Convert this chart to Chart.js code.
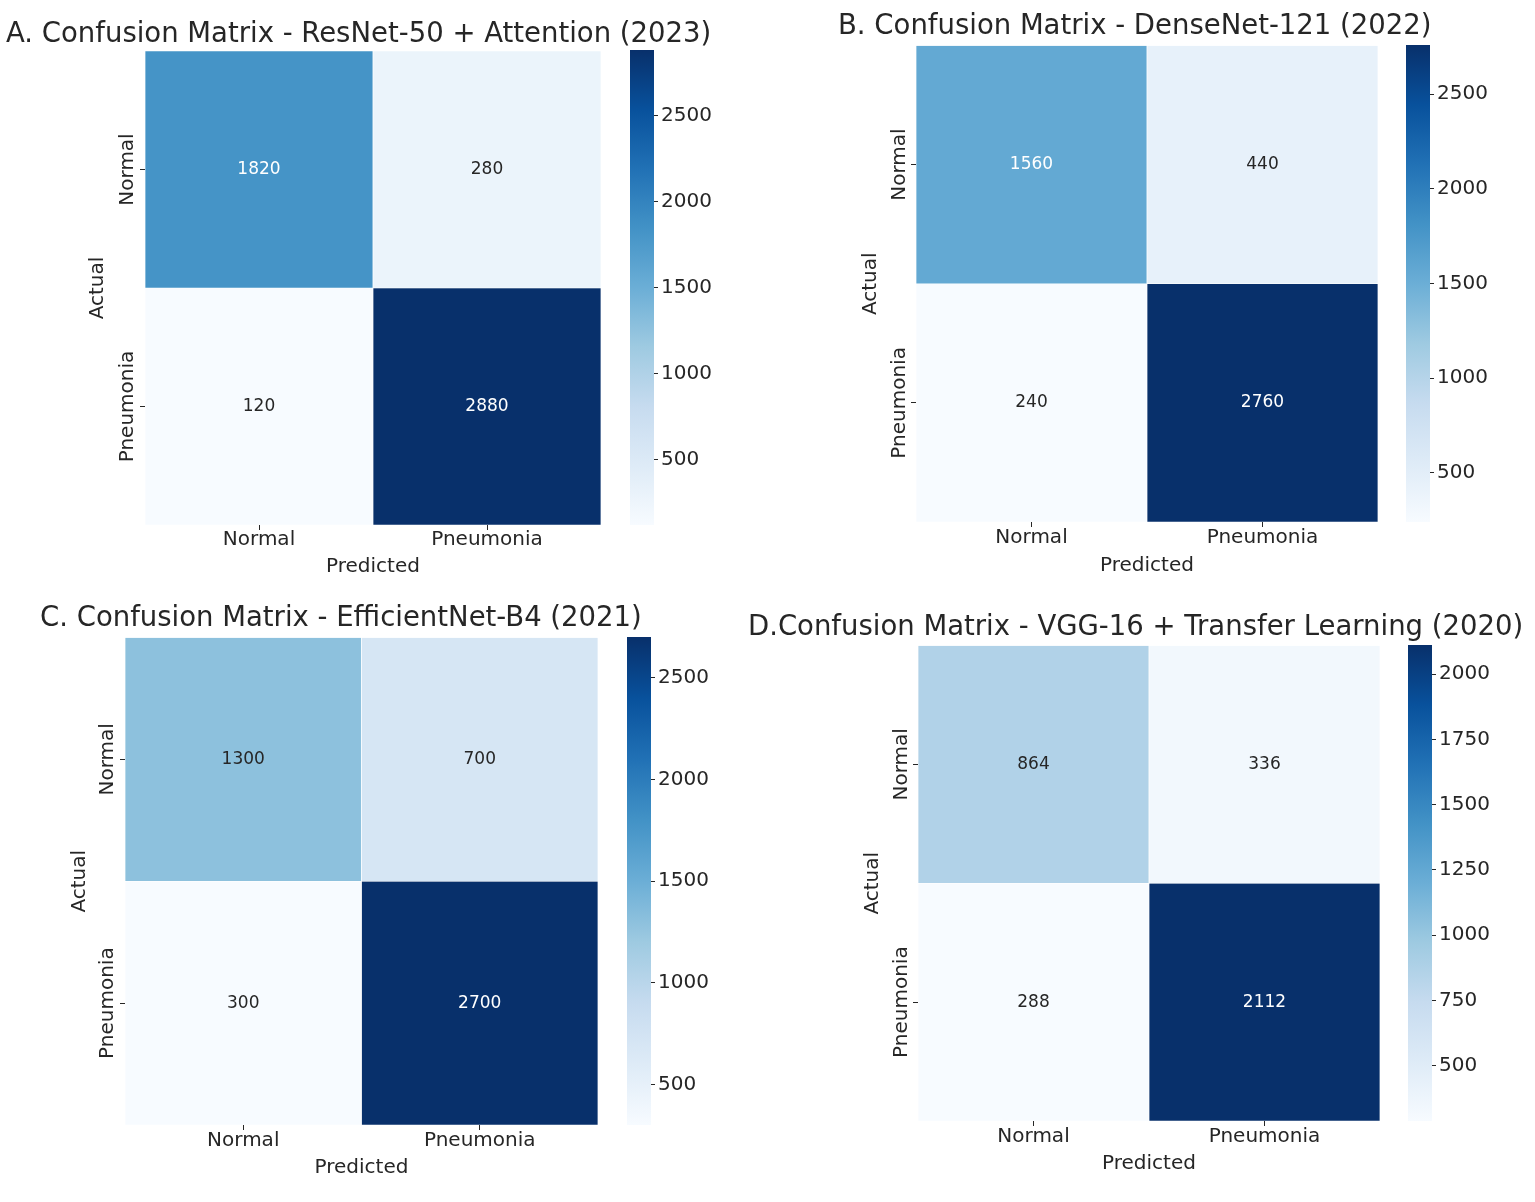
<!DOCTYPE html>
<html>
<head>
<meta charset="utf-8">
<script src="https://cdn.jsdelivr.net/npm/chart.js@4.4.1/dist/chart.umd.min.js"></script>
<style>
  html, body { margin: 0; padding: 0; background: #ffffff; }
  body { width: 1535px; height: 1202px; position: relative; overflow: hidden; }
  canvas { position: absolute; }
</style>
</head>
<body>
<script>
// ---------------- DATA ----------------
const rowLabels = ['Normal', 'Pneumonia'];   // Actual
const colLabels = ['Normal', 'Pneumonia'];   // Predicted
const axisTitleX = 'Predicted';
const axisTitleY = 'Actual';

const titleA = 'A. Confusion Matrix - ResNet-50 + Attention (2023)';
const titleB = 'B. Confusion Matrix - DenseNet-121 (2022)';
const titleC = 'C. Confusion Matrix - EfficientNet-B4 (2021)';
const titleD = 'D.Confusion Matrix - VGG-16 + Transfer Learning (2020)';

const matrixA = [[1820, 280], [120, 2880]];
const matrixB = [[1560, 440], [240, 2760]];
const matrixC = [[1300, 700], [300, 2700]];
const matrixD = [[864, 336], [288, 2112]];

const cbTicksA = [500, 1000, 1500, 2000, 2500];
const cbTicksB = [500, 1000, 1500, 2000, 2500];
const cbTicksC = [500, 1000, 1500, 2000, 2500];
const cbTicksD = [500, 750, 1000, 1250, 1500, 1750, 2000];

// ---------------- LAYOUT (page pixels) ----------------
const layouts = [
  { hm: {l:145, r:601, t:50,  b:525 }, titleLeft: 6,   titleCY: 34,  actualX: 98,  ylabX: 128, xlabCY: 540,  xtitleCY: 567,  cb: {l:630,  r:654 } },
  { hm: {l:916, r:1378, t:45, b:522 }, titleLeft: 838, titleCY: 26,  actualX: 871, ylabX: 900, xlabCY: 538,  xtitleCY: 566,  cb: {l:1406, r:1430} },
  { hm: {l:125, r:598, t:637, b:1125}, titleLeft: 40,  titleCY: 618, actualX: 80,  ylabX: 108, xlabCY: 1141, xtitleCY: 1168, cb: {l:627,  r:651 } },
  { hm: {l:918, r:1380, t:645, b:1121}, titleLeft: 748, titleCY: 627, actualX: 873, ylabX: 902, xlabCY: 1137, xtitleCY: 1164, cb: {l:1408, r:1432} }
];
const panels = [
  { title: titleA, matrix: matrixA, cbTicks: cbTicksA },
  { title: titleB, matrix: matrixB, cbTicks: cbTicksB },
  { title: titleC, matrix: matrixC, cbTicks: cbTicksC },
  { title: titleD, matrix: matrixD, cbTicks: cbTicksD }
];

// ---------------- STYLE ----------------
const FONT = "'DejaVu Sans', 'Liberation Sans', sans-serif";
const TEXT = '#262626';
const TITLE_SIZE = 27.5, TICK_SIZE = 20, ANNOT_SIZE = 17;
const BLUES = ['#f7fbff','#deebf7','#c6dbef','#9ecae1','#6baed6','#4292c6','#2171b5','#08519c','#08306b'];

Chart.defaults.font.family = FONT;
Chart.defaults.color = TEXT;

function hexToRgb(h) { return [1,3,5].map(i => parseInt(h.substr(i, 2), 16)); }
const BLUES_RGB = BLUES.map(hexToRgb);
function blues(t) {
  t = Math.max(0, Math.min(1, t));
  const p = t * (BLUES_RGB.length - 1);
  const i = Math.min(Math.floor(p), BLUES_RGB.length - 2);
  const f = p - i;
  const a = BLUES_RGB[i], b = BLUES_RGB[i + 1];
  return a.map((v, k) => Math.round(v + (b[k] - v) * f));
}
function rgbStr(c) { return 'rgb(' + c.join(',') + ')'; }
function luminance(c) {
  const lin = c.map(v => { v /= 255; return v <= 0.03928 ? v / 12.92 : Math.pow((v + 0.055) / 1.055, 2.4); });
  return 0.2126 * lin[0] + 0.7152 * lin[1] + 0.0722 * lin[2];
}

// annotate cells with their values
const annotPlugin = {
  id: 'annot',
  afterDatasetsDraw(chart, args, opts) {
    const ctx = chart.ctx;
    chart.data.datasets.forEach((ds, di) => {
      const meta = chart.getDatasetMeta(di);
      meta.data.forEach((el, ci) => {
        const v = opts.matrix[di][ci];
        const c = blues((v - opts.vmin) / (opts.vmax - opts.vmin));
        const p = el.getCenterPoint();
        ctx.save();
        ctx.font = ANNOT_SIZE + 'px ' + FONT;
        ctx.fillStyle = luminance(c) > 0.408 ? TEXT : '#ffffff';
        ctx.textAlign = 'center';
        ctx.textBaseline = 'middle';
        ctx.fillText(String(v), p.x, p.y);
        ctx.restore();
      });
    });
  }
};

// rotated row labels on the y axis
const rowLabelPlugin = {
  id: 'rowLabels',
  afterDraw(chart, args, opts) {
    const ctx = chart.ctx;
    const ys = chart.scales.y;
    opts.labels.forEach((lab, i) => {
      const y = ys.getPixelForValue(opts.labels.length - 1 - i + 0.5);
      ctx.save();
      ctx.translate(opts.x, y);
      ctx.rotate(-Math.PI / 2);
      ctx.font = TICK_SIZE + 'px ' + FONT;
      ctx.fillStyle = TEXT;
      ctx.textAlign = 'center';
      ctx.textBaseline = 'middle';
      ctx.fillText(lab, 0, 0);
      ctx.restore();
    });
  }
};

function makeCanvas(left, top, w, h) {
  const c = document.createElement('canvas');
  c.width = w; c.height = h;
  c.style.left = left + 'px'; c.style.top = top + 'px';
  c.style.width = w + 'px'; c.style.height = h + 'px';
  document.body.appendChild(c);
  return c;
}

panels.forEach((pn, k) => {
  const L0 = layouts[k];
  const m = pn.matrix;
  const flat = m.flat();
  const vmin = Math.min(...flat), vmax = Math.max(...flat);
  const nRows = rowLabels.length;

  // ---------- heatmap ----------
  const titleLH = TITLE_SIZE * 1.2;
  const L = L0.titleLeft;
  const T = L0.titleCY - titleLH / 2;
  const W = 800;
  const titlePadBottom = Math.max(0, L0.hm.t - T - titleLH);
  const yAxisW = L0.hm.l - L;
  const rightW = L + W - L0.hm.r;
  const xAxisH = L0.xtitleCY + 15 - L0.hm.b;
  const H = L0.hm.b + xAxisH - T;

  const datasets = rowLabels.map((rl, r) => ({
    label: rl,
    data: colLabels.map(() => [nRows - 1 - r, nRows - r]),
    backgroundColor: m[r].map(v => rgbStr(blues((v - vmin) / (vmax - vmin)))),
    borderColor: 'rgba(255,255,255,0.85)',
    borderWidth: 0.7,
    borderSkipped: false,
    barPercentage: 1,
    categoryPercentage: 1,
    grouped: false
  }));

  new Chart(makeCanvas(L, T, W, H), {
    type: 'bar',
    data: { labels: colLabels, datasets },
    plugins: [annotPlugin, rowLabelPlugin],
    options: {
      responsive: false,
      animation: false,
      devicePixelRatio: 1,
      layout: { padding: 0 },
      plugins: {
        legend: { display: false },
        tooltip: { enabled: false },
        title: {
          display: true, text: pn.title, align: 'start', color: TEXT,
          font: { size: TITLE_SIZE, weight: 'normal', family: FONT, lineHeight: 1.2 },
          padding: { top: 0, bottom: titlePadBottom }
        },
        annot: { matrix: m, vmin, vmax },
        rowLabels: { labels: rowLabels, x: L0.ylabX - L }
      },
      scales: {
        x: {
          type: 'category', offset: true,
          grid: { offset: false, drawOnChartArea: false, drawTicks: true, tickLength: 5, color: TEXT, lineWidth: 1 },
          border: { display: false },
          ticks: { font: { size: TICK_SIZE }, color: TEXT, padding: L0.xlabCY - L0.hm.b - 5 - TICK_SIZE * 0.6, maxRotation: 0, minRotation: 0 },
          title: { display: true, text: axisTitleX, color: TEXT, font: { size: TICK_SIZE, lineHeight: 1.2 }, padding: { top: 0, bottom: 3 } },
          afterFit(s) { s.height = xAxisH; }
        },
        y: {
          type: 'linear', position: 'left', min: 0, max: nRows,
          afterBuildTicks(s) { s.ticks = rowLabels.map((_, i) => ({ value: nRows - 1 - i + 0.5 })); },
          grid: { drawOnChartArea: false, drawTicks: true, tickLength: 5, color: TEXT, lineWidth: 1 },
          border: { display: false },
          ticks: { display: false },
          title: { display: true, text: axisTitleY, color: TEXT, font: { size: TICK_SIZE, lineHeight: 1.2 }, padding: { top: L0.actualX - TICK_SIZE * 0.6 - L, bottom: 0 } },
          afterFit(s) { s.width = yAxisW; }
        },
        pad: {
          type: 'linear', position: 'right', display: true,
          grid: { display: false }, border: { display: false }, ticks: { display: false },
          afterFit(s) { s.width = rightW; }
        }
      }
    }
  });

  // ---------- colorbar ----------
  const cbW = L0.cb.r - L0.cb.l;
  const cbAxisW = 80;
  const cbPad = 15;
  new Chart(makeCanvas(L0.cb.l, L0.hm.t - cbPad, cbW + cbAxisW, L0.hm.b - L0.hm.t + 2 * cbPad), {
    type: 'bar',
    data: {
      labels: [''],
      datasets: [{
        data: [[vmin, vmax]],
        backgroundColor(ctx) {
          const ch = ctx.chart;
          const ys = ch.scales.y;
          if (!ch.chartArea || !ys) return BLUES[4];
          const g = ch.ctx.createLinearGradient(0, ys.getPixelForValue(vmin), 0, ys.getPixelForValue(vmax));
          BLUES.forEach((c, i) => g.addColorStop(i / (BLUES.length - 1), c));
          return g;
        },
        borderWidth: 0,
        barPercentage: 1,
        categoryPercentage: 1
      }]
    },
    options: {
      responsive: false,
      animation: false,
      devicePixelRatio: 1,
      layout: { padding: { top: cbPad, bottom: cbPad, left: 0, right: 0 } },
      plugins: { legend: { display: false }, tooltip: { enabled: false }, title: { display: false } },
      scales: {
        x: { display: false },
        y: {
          type: 'linear', position: 'right', min: vmin, max: vmax,
          afterBuildTicks(s) { s.ticks = pn.cbTicks.map(v => ({ value: v })); },
          grid: { drawOnChartArea: false, drawTicks: true, tickLength: 4, color: TEXT, lineWidth: 1 },
          border: { display: false },
          ticks: { font: { size: TICK_SIZE }, color: TEXT, padding: 3, callback: v => String(v) },
          afterFit(s) { s.width = cbAxisW; }
        }
      }
    }
  });
});
</script>
</body>
</html>
